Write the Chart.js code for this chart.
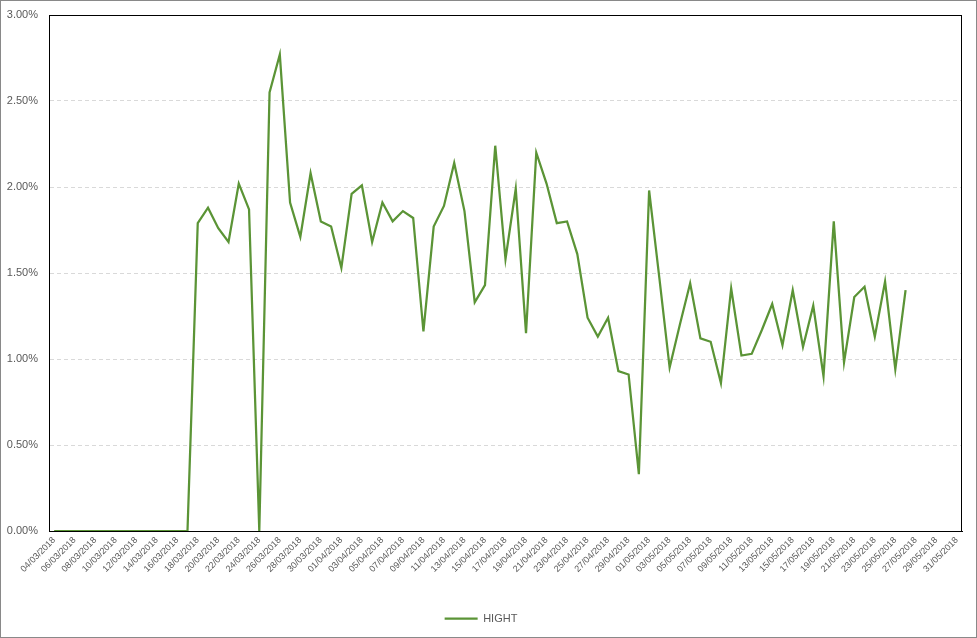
<!DOCTYPE html>
<html>
<head>
<meta charset="utf-8">
<script src="https://cdn.jsdelivr.net/npm/chart.js@4/dist/chart.umd.min.js"></script>
<style>
html,body{margin:0;padding:0;background:#fff;}
#wrap{width:977px;height:638px;position:relative;}
</style>
</head>
<body>
<div id="wrap"><canvas id="c" width="977" height="638"></canvas></div>
<script>
const categories = [
"04/03/2018","05/03/2018","06/03/2018","07/03/2018","08/03/2018","09/03/2018","10/03/2018","11/03/2018","12/03/2018","13/03/2018",
"14/03/2018","15/03/2018","16/03/2018","17/03/2018","18/03/2018","19/03/2018","20/03/2018","21/03/2018","22/03/2018","23/03/2018",
"24/03/2018","25/03/2018","26/03/2018","27/03/2018","28/03/2018","29/03/2018","30/03/2018","31/03/2018","01/04/2018","02/04/2018",
"03/04/2018","04/04/2018","05/04/2018","06/04/2018","07/04/2018","08/04/2018","09/04/2018","10/04/2018","11/04/2018","12/04/2018",
"13/04/2018","14/04/2018","15/04/2018","16/04/2018","17/04/2018","18/04/2018","19/04/2018","20/04/2018","21/04/2018","22/04/2018",
"23/04/2018","24/04/2018","25/04/2018","26/04/2018","27/04/2018","28/04/2018","29/04/2018","30/04/2018","01/05/2018","02/05/2018",
"03/05/2018","04/05/2018","05/05/2018","06/05/2018","07/05/2018","08/05/2018","09/05/2018","10/05/2018","11/05/2018","12/05/2018",
"13/05/2018","14/05/2018","15/05/2018","16/05/2018","17/05/2018","18/05/2018","19/05/2018","20/05/2018","21/05/2018","22/05/2018",
"23/05/2018","24/05/2018","25/05/2018","26/05/2018","27/05/2018","28/05/2018","29/05/2018","30/05/2018","31/05/2018"
];
// HIGHT, in percent
const hight = [
0,0,0,0,0,0,0,0,0,0,
0,0,0,0,1.79,1.88,1.76,1.68,2.02,1.87,
0,2.55,2.77,1.91,1.71,2.08,1.80,1.77,1.53,1.96,
2.01,1.68,1.91,1.80,1.86,1.82,1.16,1.77,1.89,2.14,
1.86,1.33,1.43,2.24,1.58,1.99,1.15,2.20,2.02,1.79,
1.80,1.61,1.24,1.13,1.24,0.93,0.91,0.33,1.98,1.47,
0.95,1.20,1.44,1.12,1.10,0.86,1.41,1.02,1.03,1.17,
1.32,1.08,1.40,1.07,1.31,0.90,1.80,0.98,1.36,1.42,
1.13,1.45,0.94,1.40,null,null,null,null,null
];
const yTicks = [0,0.5,1.0,1.5,2.0,2.5,3.0];
const seriesName = "HIGHT";

const frame = {
  id:'frame',
  afterDatasetsDraw(chart){
    const {ctx, chartArea:a} = chart;
    ctx.save();
    ctx.strokeStyle = '#000';
    ctx.lineWidth = 1;
    ctx.strokeRect(Math.round(a.left)+0.5, Math.round(a.top)+0.5, Math.round(a.right-a.left)-1, Math.round(a.bottom-a.top));
    ctx.restore();
  },
  afterDraw(chart){
    const ctx = chart.ctx;
    ctx.save();
    ctx.strokeStyle = '#898989';
    ctx.lineWidth = 1;
    ctx.strokeRect(0.5,0.5,chart.width-1,chart.height-1);
    ctx.restore();
  }
};

new Chart(document.getElementById('c'), {
  type:'line',
  data:{
    labels:categories,
    datasets:[{
      label:seriesName,
      data:hight,
      borderColor:'#5b9436',
      backgroundColor:'#5b9436',
      borderWidth:2.25,
      pointRadius:0,
      pointHoverRadius:0,
      tension:0,
      spanGaps:false
    }]
  },
  options:{
    responsive:false,
    animation:false,
    layout:{padding:{left:0,top:15,right:15,bottom:4}},
    plugins:{
      legend:{
        position:'bottom',
        labels:{
          usePointStyle:true,
          pointStyle:'line',
          pointStyleWidth:33,
          color:'#595959',
          font:{family:'Liberation Sans',size:11},
          padding:10
        }
      },
      tooltip:{enabled:false}
    },
    scales:{
      x:{
        offset:true,
        grid:{display:false,drawTicks:false},
        border:{display:true,color:'#000'},
        ticks:{
          autoSkip:false,
          minRotation:45,
          maxRotation:45,
          color:'#595959',
          padding:4,
          font:{family:'Liberation Sans',size:9},
          callback:function(v,i){ return i%2===0 ? categories[i] : ''; }
        },
        afterFit(s){ s.height = 72; }
      },
      y:{
        min:0,max:3,
        afterBuildTicks(s){ s.ticks = yTicks.map(v=>({value:v})); },
        grid:{color:'#d9d9d9',drawTicks:false,lineWidth:1},
        border:{display:true,color:'#000',dash:[4,3]},
        ticks:{
          color:'#595959',
          padding:11,
          font:{family:'Liberation Sans',size:11},
          callback:function(v){ return v.toFixed(2)+'%'; }
        },
        afterFit(s){ s.width = 49; s.paddingTop = 0; s.paddingBottom = 0; }
      }
    }
  },
  plugins:[frame]
});
</script>
</body>
</html>
